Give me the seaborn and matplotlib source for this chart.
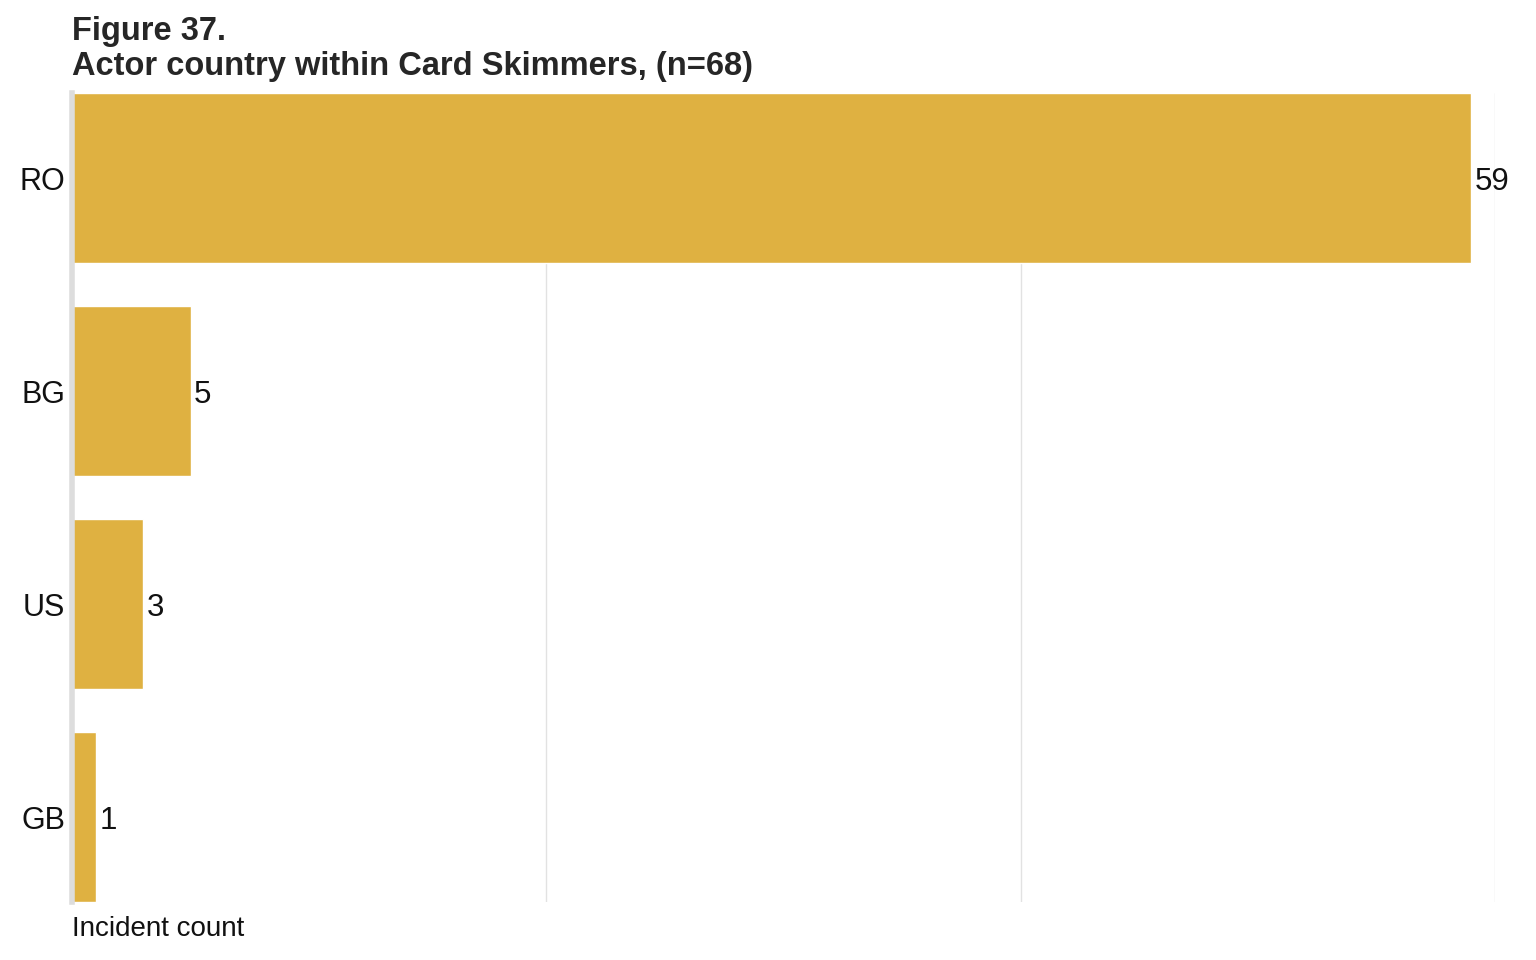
import matplotlib
matplotlib.use("Agg")
import matplotlib.pyplot as plt
import seaborn as sns
import pandas as pd

countries = ["RO", "BG", "US", "GB"]
counts = [59, 5, 3, 1]
bar_color = "#DFB141"

df = pd.DataFrame({"country": countries, "count": counts})

sns.set_style("white")
plt.rcParams["font.family"] = ["Liberation Sans", "DejaVu Sans"]

fig = plt.figure(figsize=(15.36, 9.6), dpi=100)
ax = fig.add_axes([0.0469, 0.06, 0.9264, 0.843])

sns.barplot(data=df, x="count", y="country", color=bar_color, saturation=1,
            width=0.8, ax=ax, zorder=3)

ax.set_xlim(0, 60)
ax.set_ylim(3.4, -0.4)
ax.set_xticks([20, 40, 60])
ax.set_xticklabels([])
ax.tick_params(axis="x", length=0)
ax.tick_params(axis="y", length=0, labelsize=22, pad=5, labelcolor="#111111")
ax.grid(axis="x", color="#e2e2e2", linewidth=1, zorder=0)
ax.grid(axis="y", visible=False)

for s in ["top", "right", "bottom"]:
    ax.spines[s].set_visible(False)
ax.spines["left"].set_color("#dddddd")
ax.spines["left"].set_linewidth(4)
ax.spines["left"].set_zorder(4)

# value labels at the end of each bar
for i, v in enumerate(counts):
    ax.text(v + 0.15, i, str(v), va="center_baseline", ha="left", fontsize=22.5, color="#111111")

ax.set_ylabel("")
ax.set_xlabel("Incident count", fontsize=20, color="#111111", loc="left", labelpad=6)

fig.text(0.0469, 0.958, "Figure 37.", fontsize=23.5, fontweight="bold", ha="left", va="baseline")
fig.text(0.0469, 0.922, "Actor country within Card Skimmers, (n=68)", fontsize=23.5,
         fontweight="bold", ha="left", va="baseline")

fig.savefig("out.png", dpi=100)
